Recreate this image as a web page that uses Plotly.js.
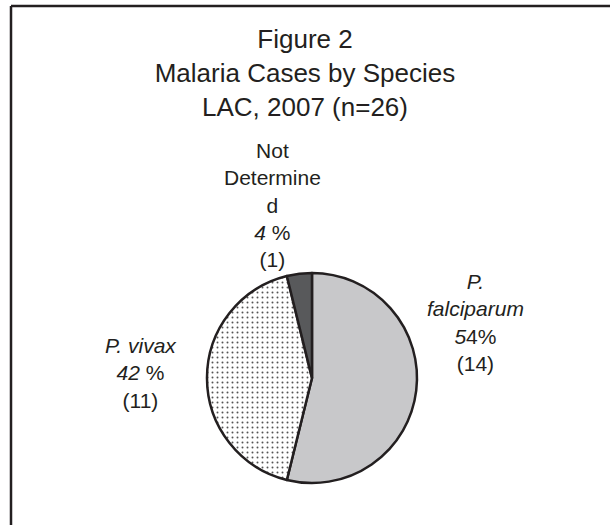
<!DOCTYPE html>
<html>
<head>
<meta charset="utf-8">
<script src="https://cdn.plot.ly/plotly-3.0.1.min.js"></script>
<style>html,body{margin:0;padding:0;background:#fff;}#chart{width:610px;height:525px;}</style>
</head>
<body>
<div id="chart"></div>
<script>
// Data
const species = ["P. falciparum", "P. vivax", "Not Determined"];
const cases = [14, 11, 1];
const percentLabels = ["<i>5</i>4%", "<i>42</i> %", "<i>4</i> %"];
const nameLabels = ["<i>P.</i><br><i>falciparum</i>", "<i>P. vivax</i>", "Not<br>Determine<br>d"];
const sliceColors = ["#c8c8ca", "#ffffff", "#58595b"];
const slicePatterns = ["", ".", ""];
const titleLines = ["Figure 2", "Malaria Cases by Species", "LAC, 2007 (n=26)"];

const ink = "#231f20";
const font = "Liberation Sans, Arial, sans-serif";

// label anchor positions (paper coords), one per slice
const labelPos = [
  {x: 0.779, y: 0.385},
  {x: 0.231, y: 0.290},
  {x: 0.446, y: 0.610}
];

const annotations = species.map((s, i) => ({
  xref: "paper", yref: "paper",
  x: labelPos[i].x, y: labelPos[i].y,
  xanchor: "center", yanchor: "middle",
  text: nameLabels[i] + "<br>" + percentLabels[i] + "<br>(" + cases[i] + ")",
  showarrow: false,
  align: "center",
  font: {family: font, size: 21, color: ink}
}));

const trace = {
  type: "pie",
  labels: species,
  values: cases,
  sort: false,
  direction: "clockwise",
  rotation: 0,
  textinfo: "none",
  hoverinfo: "none",
  domain: {x: [0.3393, 0.6836], y: [0.08, 0.48]},
  marker: {
    colors: sliceColors,
    line: {color: ink, width: 2.5},
    pattern: {shape: slicePatterns, fgcolor: "#555555", bgcolor: "#ffffff", size: 5, solidity: 0.12}
  },
  showlegend: false
};

const layout = {
  width: 610, height: 525,
  margin: {l: 0, r: 0, t: 0, b: 0},
  paper_bgcolor: "#ffffff",
  showlegend: false,
  title: {
    text: titleLines.join("<br>"),
    x: 0.5, xanchor: "center",
    y: 0.908, yanchor: "top", yref: "container",
    font: {family: font, size: 26, color: ink}
  },
  annotations: annotations,
  shapes: [
    {type: "line", xref: "paper", yref: "paper", x0: 11/610, x1: 11/610, y0: -0.05, y1: 1 - 6/525, line: {color: ink, width: 2.5}},
    {type: "line", xref: "paper", yref: "paper", x0: 11/610, x1: 1.05, y0: 1 - 6/525, y1: 1 - 6/525, line: {color: ink, width: 2.5}}
  ]
};

Plotly.newPlot("chart", [trace], layout, {staticPlot: true, displayModeBar: false});
</script>
</body>
</html>
